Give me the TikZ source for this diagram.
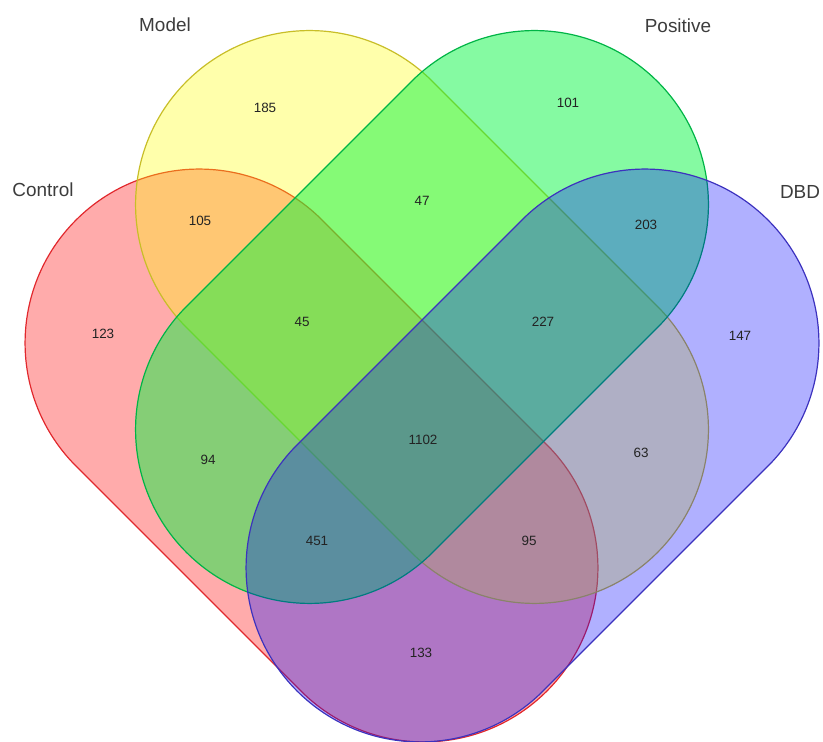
\documentclass[tikz,border=0pt]{standalone}
\usepackage{fontspec}
\setmainfont{Liberation Sans}
\usepackage{xcolor}
\usepackage{tikz}
\usetikzlibrary{positioning}
\definecolor{ctrlfill}{RGB}{255,0,0}
\definecolor{ctrlline}{RGB}{225,40,45}
\definecolor{modelfill}{RGB}{255,255,0}
\definecolor{modelline}{RGB}{200,190,40}
\definecolor{posfill}{RGB}{0,245,60}
\definecolor{posline}{RGB}{0,180,70}
\definecolor{dbdfill}{RGB}{0,0,255}
\definecolor{dbdline}{RGB}{60,50,190}
\definecolor{labelgray}{RGB}{60,60,60}
\definecolor{countgray}{RGB}{35,35,35}

\begin{document}
\begin{tikzpicture}[
    x=1bp, y=1bp,
    setshape/.style={line width=1.2bp, rounded corners=174bp},
    ctrlset/.style={setshape, draw=ctrlline, fill=ctrlfill, fill opacity=0.33},
    modelset/.style={setshape, draw=modelline, fill=modelfill, fill opacity=0.33},
    posset/.style={setshape, draw=posline, fill=posfill, fill opacity=0.48},
    dbdset/.style={setshape, draw=dbdline, fill=dbdfill, fill opacity=0.31},
    setlabel/.style={font=\fontsize{19}{22}\selectfont, text=labelgray},
    count/.style={font=\fontsize{13.5}{16}\selectfont, text=countgray}
  ]
  \useasboundingbox (0,0) rectangle (823,742);

  % --- Sets (capsules) ---
  \draw[ctrlset, rotate around={-45:(311.5,286.5)}] (-21.5,112.5) rectangle (644.5,460.5);
  \draw[modelset, rotate around={-45:(422,425)}] (89,251) rectangle (755,599);
  \draw[posset, rotate around={45:(422,425)}] (89,251) rectangle (755,599);
  \draw[dbdset, rotate around={45:(532.5,286.5)}] (199.5,112.5) rectangle (865.5,460.5);

  % --- Set names ---
  \node[setlabel] (lcontrol) at (43,552) {Control};
  \node[setlabel] (lmodel) at (165,717) {Model};
  \node[setlabel] (lpositive) at (678,716) {Positive};
  \node[setlabel] (ldbd) at (800,550) {DBD};

  % --- Region counts ---
  \node[count] (c185) at (265,634) {185};
  \node[count] (c101) at (568,639) {101};
  \node[count] (c105) at (200,521) {105};
  \node[count] (c47) at (422,541) {47};
  \node[count] (c203) at (646,517) {203};
  \node[count] (c123) at (103,408) {123};
  \node[count] (c45) at (302,420) {45};
  \node[count] (c227) at (543,420) {227};
  \node[count] (c147) at (740,406) {147};
  \node[count] (c94) at (208,282) {94};
  \node[count] (c1102) at (423,302) {1102};
  \node[count] (c63) at (641,289) {63};
  \node[count] (c451) at (317,201) {451};
  \node[count] (c95) at (529,201) {95};
  \node[count] (c133) at (421,89) {133};

\end{tikzpicture}
\end{document}
